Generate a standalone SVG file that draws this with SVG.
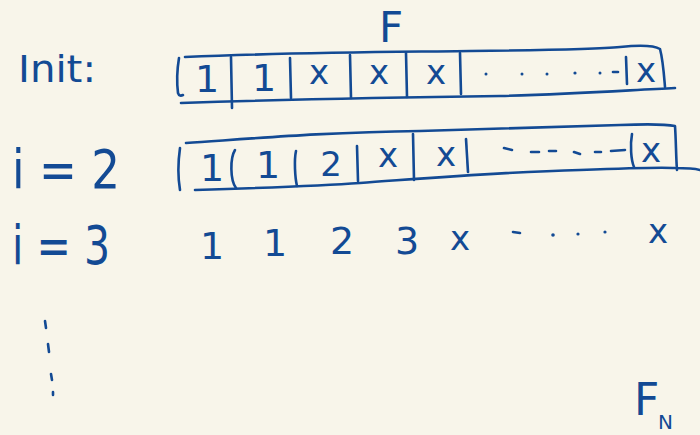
<svg xmlns="http://www.w3.org/2000/svg" width="700" height="435" viewBox="0 0 700 435">
<style>
.ink{fill:none;stroke:#134a94;stroke-width:2.6;stroke-linecap:round;stroke-linejoin:round}
.t{fill:#134a94;font-family:"DejaVu Sans","Liberation Sans",sans-serif}
.d{font-size:38px;text-anchor:middle}
.x{font-size:34px;text-anchor:middle}
.dot{fill:#134a94}
</style>
<rect width="700" height="435" fill="#f8f5ea"/>
<g id="title">
<text class="t" x="379" y="42" font-size="42">F</text>
</g>
<g id="row-init">
<text class="t" x="18" y="82" font-size="38" textLength="78" lengthAdjust="spacingAndGlyphs">Init:</text>
<path class="ink" d="M185 57 C300 52 400 52 470 51 C560 50 600 49 620 47 C640 45 655 46 660 49 C663 60 664 75 665 87"/>
<path class="ink" d="M181 103 C300 99 420 97 500 96 C580 94 630 90 675 88"/>
<path class="ink" d="M179 58 C177 70 177 85 178 93 C179 96 181 96 183 95"/>
<path class="ink" d="M231 57 L232 108"/>
<path class="ink" d="M290 58 L291 98"/>
<path class="ink" d="M350 55 L351 98"/>
<path class="ink" d="M406 53 L407 97"/>
<path class="ink" d="M460 53 L461 94"/>
<path class="ink" d="M626 57 L627 84"/>
<text class="t d" x="207" y="92">1</text>
<text class="t d" x="264" y="91">1</text>
<text class="t x" x="319" y="84">x</text>
<text class="t x" x="379" y="84">x</text>
<text class="t x" x="436" y="84">x</text>
<circle class="dot" cx="486" cy="74" r="1.5"/>
<circle class="dot" cx="522" cy="74" r="1.5"/>
<circle class="dot" cx="547" cy="74" r="1.5"/>
<circle class="dot" cx="575" cy="73" r="1.6"/>
<circle class="dot" cx="600" cy="73" r="1.5"/>
<path class="ink" d="M613 72 L618 72"/>
<text class="t x" x="646" y="82">x</text>
</g>
<g id="row-i2">
<text class="t" x="12" y="188" font-size="54" textLength="108" lengthAdjust="spacingAndGlyphs">i = 2</text>
<path class="ink" d="M186 143 C260 138 330 132 420 131 C500 129 560 127 620 125 C645 124 665 124 675 126 C676 140 676 158 677 170"/>
<path class="ink" d="M195 190 C260 188 320 186 360 183 C430 178 500 172 580 170 C630 168 660 167 675 168 C685 168 693 168 700 170"/>
<path class="ink" d="M180 148 C178 162 178 178 180 190"/>
<path class="ink" d="M235 150 C230 158 230 180 236 188"/>
<path class="ink" d="M296 151 C294 160 295 178 297 186"/>
<path class="ink" d="M357 146 L358 181"/>
<path class="ink" d="M413 134 L414 180"/>
<path class="ink" d="M466 139 L468 172"/>
<path class="ink" d="M632 134 C630 145 631 160 634 167"/>
<text class="t d" x="212" y="181">1</text>
<text class="t d" x="268" y="178">1</text>
<text class="t" x="331" y="176" font-size="34" text-anchor="middle">2</text>
<text class="t x" x="388" y="167">x</text>
<text class="t x" x="446" y="166">x</text>
<path class="ink" d="M504 148 L512 150 M531 152 L539 152 M549 151 L556 151 M574 152 L580 154 M595 152 L601 152 M611 151 L625 150"/>
<text class="t x" x="651" y="162">x</text>
</g>
<g id="row-i3">
<text class="t" x="12" y="264" font-size="54" textLength="98" lengthAdjust="spacingAndGlyphs">i = 3</text>
<text class="t d" x="212" y="259" font-size="40">1</text>
<text class="t d" x="275" y="256" font-size="40">1</text>
<text class="t d" x="342" y="254" font-size="36">2</text>
<text class="t d" x="407" y="254" font-size="42">3</text>
<text class="t x" x="460" y="250" font-size="38">x</text>
<path class="ink" d="M513 232 L520 233"/>
<circle class="dot" cx="553" cy="235" r="1.8"/>
<circle class="dot" cx="578" cy="234" r="1.6"/>
<circle class="dot" cx="605" cy="232" r="1.6"/>
<text class="t x" x="658" y="243" font-size="40">x</text>
</g>
<g id="vdots">
<path class="ink" d="M45 321 L46 328 M48 344 L49 352 M51 374 L52 380 M53 392 L53 395"/>
</g>
<g id="fn">
<text class="t" x="634" y="415" font-size="44">F</text>
<text class="t" x="658" y="429" font-size="20">N</text>
</g>
</svg>
